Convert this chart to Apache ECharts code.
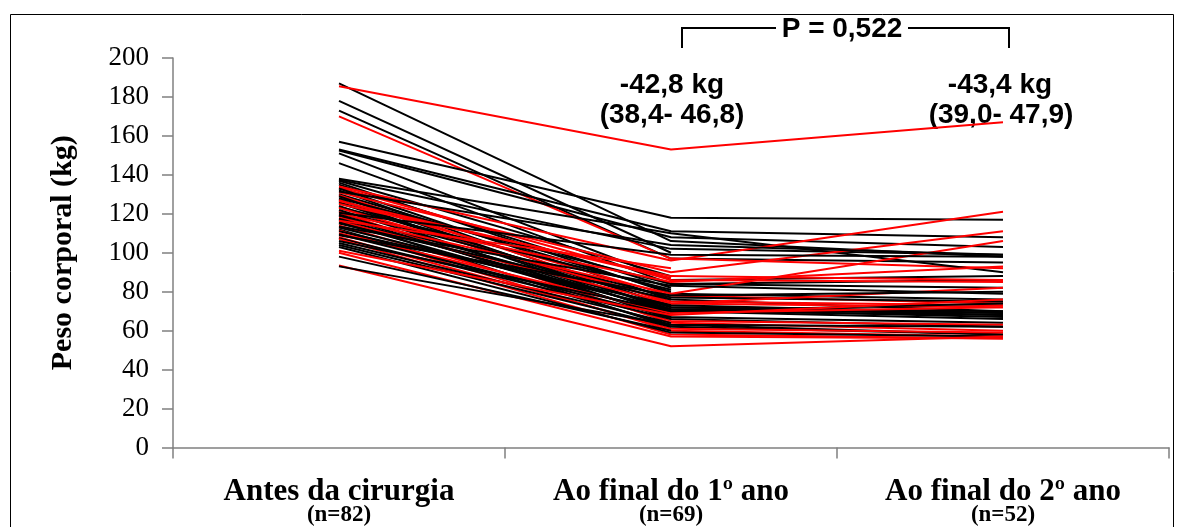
<!DOCTYPE html>
<html>
<head>
<meta charset="utf-8">
<script src="https://cdn.jsdelivr.net/npm/echarts@6/dist/echarts.min.js"></script>
<style>
html,body{margin:0;padding:0;background:#fff;}
#c{width:1182px;height:527px;}
</style>
</head>
<body>
<div id="c"></div>
<script>
// Categories and labels
var categories = ['Antes da cirurgia', 'Ao final do 1º ano', 'Ao final do 2º ano'];
var nLabels = ['(n=82)', '(n=69)', '(n=52)'];
var yTicks = [0, 20, 40, 60, 80, 100, 120, 140, 160, 180, 200];

// Peso corporal (kg) per patient at each time point (null = missing)
var antes = [187, 185.5, 178, 173, 170, 157, 153, 152.5, 151, 146,
  138, 137.5, 137, 136, 135, 134, 133.5, 133, 132, 131,
  130, 129.5, 129, 128, 127.5, 127, 126, 125.5, 125, 124,
  123.5, 123, 122, 121.5, 121, 120, 119.5, 119, 118, 117.5,
  117, 116, 115.5, 115, 114, 113.5, 113, 112, 111.5, 111,
  110, 109.5, 109, 108, 107.5, 107, 106, 105, 104, 103,
  101, 100, 98, 93.5, 93, 126.5, 120.5, 131.5, 116.5,
  128.5, 124.5, 118.5, 114.5, 122.5, 110.5, 135.5, 119.8, 112.5, 126.2, 108.5, 132.5, 116.2];
var ano1 = [106, 153, 100, 97, 97, 118, 111, 108, 86, 84,
  110, 102, 88, 79, 82, 96, 86, 76, 72, 90,
  80, 74, 70, 84, 68, 78, 73, 71, 88, 66,
  81, 75, 69, 77, 64, 85, 72, 67, 79, 70,
  62, 74, 68, 76, 65, 83, 71, 63, 60, 73,
  69, 67, 78, 61, 66, 58, 70, 64, 62, 59,
  68, 57, 60, 52, 63, 87, 99, 104, 92,
  null, null, null, null, null, null, null, null, null, null, null, null, null];
var ano2 = [98, 167, null, 95, 92, 117, 108, 103, 88, 86,
  90, 99, null, 76, null, 121, 85, 70, 68, 111,
  null, 72, 66, 82, null, 74, 69, 67, 86, 62,
  null, 73, null, 75, 60, 93, 70, 64, 106, 68,
  58, 82, null, null, 63, 79, 69, 58, 57, null,
  72, null, 80, 59, null, 56, 74, null, null, 57,
  76, 56, null, 57, 62, null, 98, 99, null,
  null, null, null, null, null, null, null, null, null, null, null, null, null];
var grupo = ['k','r','k','k','r','k','k','k','k','k',
  'k','k','k','k','k','r','r','k','k','r',
  'k','r','k','k','k','r','k','k','r','k',
  'k','r','k','k','r','r','k','k','r','k',
  'k','r','k','k','r','k','k','k','r','k',
  'r','k','k','r','k','r','k','k','k','k',
  'r','r','k','r','k','r','k','k','r',
  'k','r','k','k','r','k','k','r','k','k','r','k','k'];

var colorMap = {k: '#000000', r: '#ff0000'};

var series = antes.map(function (v, i) {
  return {
    type: 'line',
    data: [v, ano1[i], ano2[i]],
    showSymbol: false,
    symbol: 'none',
    silent: true,
    animation: false,
    lineStyle: {color: colorMap[grupo[i]], width: 2},
    z: 2
  };
});

var chart = echarts.init(document.getElementById('c'), null, {renderer: 'canvas'});
var serif = '"Liberation Serif", "Times New Roman", serif';
var sans = '"Liberation Sans", Arial, sans-serif';

chart.setOption({
  animation: false,
  backgroundColor: '#ffffff',
  grid: {left: 173, right: 13, top: 58, bottom: 79, containLabel: false},
  xAxis: {
    type: 'category',
    data: categories,
    boundaryGap: true,
    axisLine: {lineStyle: {color: '#808080', width: 1.5}},
    axisTick: {show: true, length: 11, lineStyle: {color: '#808080', width: 1.5}},
    axisLabel: {
      margin: 31,
      interval: 0,
      formatter: function (val, idx) {
        return '{a|' + val + '}\n{b|' + nLabels[idx] + '}';
      },
      rich: {
        a: {fontFamily: serif, fontWeight: 'bold', fontSize: 31, color: '#000', lineHeight: 26},
        b: {fontFamily: serif, fontWeight: 'bold', fontSize: 23, color: '#000', lineHeight: 22}
      }
    }
  },
  yAxis: {
    type: 'value',
    min: yTicks[0],
    max: yTicks[yTicks.length - 1],
    interval: 20,
    name: 'Peso corporal (kg)',
    nameLocation: 'middle',
    nameGap: 95,
    nameRotate: 90,
    nameTextStyle: {fontFamily: serif, fontWeight: 'bold', fontSize: 30, color: '#000'},
    axisLine: {show: true, lineStyle: {color: '#808080', width: 1.5}},
    axisTick: {show: true, length: 11, lineStyle: {color: '#808080', width: 1.5}},
    splitLine: {show: false},
    axisLabel: {fontFamily: serif, fontSize: 27, color: '#000', margin: 24}
  },
  graphic: [
    {type: 'rect', shape: {x: 10.5, y: 14.5, width: 1163, height: 540}, style: {fill: null, stroke: '#000', lineWidth: 1}, silent: true},
    {type: 'polyline', shape: {points: [[682, 48], [682, 28], [776, 28]]}, style: {stroke: '#000', lineWidth: 2, fill: null}},
    {type: 'polyline', shape: {points: [[908, 28], [1009, 28], [1009, 48]]}, style: {stroke: '#000', lineWidth: 2, fill: null}},
    {type: 'text', x: 842, y: 29, style: {text: 'P = 0,522', font: 'bold 28px ' + sans, fill: '#000', textAlign: 'center', textVerticalAlign: 'middle'}},
    {type: 'text', x: 672, y: 85, style: {text: '-42,8 kg', font: 'bold 28px ' + sans, fill: '#000', textAlign: 'center', textVerticalAlign: 'middle'}},
    {type: 'text', x: 672, y: 115, style: {text: '(38,4- 46,8)', font: 'bold 28px ' + sans, fill: '#000', textAlign: 'center', textVerticalAlign: 'middle'}},
    {type: 'text', x: 1000, y: 85, style: {text: '-43,4 kg', font: 'bold 28px ' + sans, fill: '#000', textAlign: 'center', textVerticalAlign: 'middle'}},
    {type: 'text', x: 1001, y: 115, style: {text: '(39,0- 47,9)', font: 'bold 28px ' + sans, fill: '#000', textAlign: 'center', textVerticalAlign: 'middle'}}
  ],
  series: series
});
</script>
</body>
</html>
